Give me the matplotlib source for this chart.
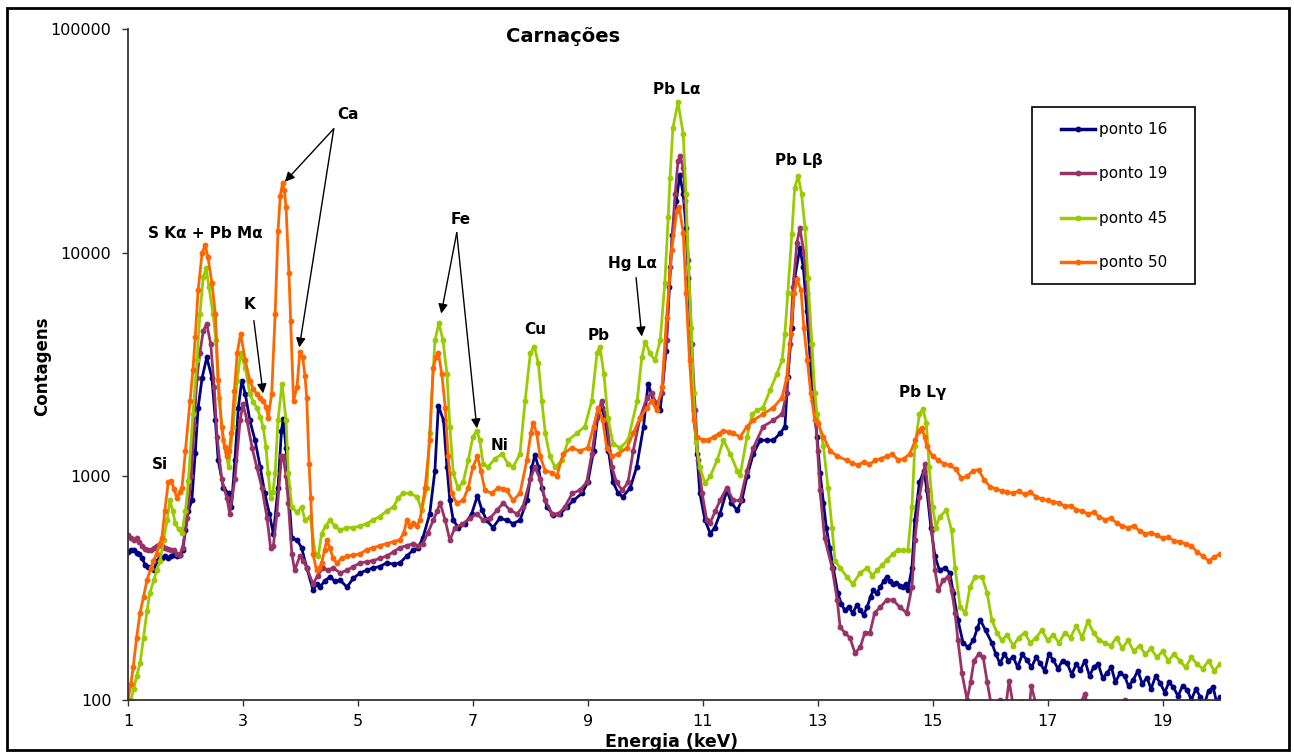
import matplotlib
matplotlib.use('Agg')
import matplotlib.pyplot as plt
from matplotlib.patches import Rectangle
from matplotlib.lines import Line2D
from matplotlib.ticker import FixedLocator, FixedFormatter, NullLocator

plt.rcParams['font.family'] = ['DejaVu Sans']

# ---------------- data (energy keV, counts) ----------------
e16 = [1.00,1.05,1.10,1.15,1.20,1.25,1.30,1.35,1.40,1.45,
       1.50,1.55,1.60,1.65,1.70,1.75,1.80,1.85,1.90,1.95,
       2.00,2.05,2.11,2.17,2.22,2.29,2.37,2.46,2.52,2.57,
       2.66,2.75,2.80,2.86,2.92,2.98,3.04,3.12,3.21,3.30,
       3.38,3.46,3.53,3.61,3.67,3.70,3.75,3.79,3.85,3.94,
       4.02,4.11,4.22,4.28,4.34,4.42,4.51,4.60,4.69,4.81,
       4.92,5.04,5.15,5.27,5.38,5.50,5.62,5.73,5.85,5.96,
       6.05,6.13,6.25,6.34,6.40,6.49,6.55,6.60,6.66,6.75,
       6.86,6.98,7.08,7.16,7.24,7.35,7.47,7.59,7.70,7.82,
       7.94,8.03,8.08,8.14,8.20,8.29,8.40,8.52,8.64,8.75,
       8.90,9.00,9.10,9.18,9.25,9.30,9.36,9.44,9.53,9.61,
       9.74,9.85,9.97,10.05,10.14,10.26,10.36,10.42,10.47,10.54,
       10.60,10.66,10.71,10.75,10.80,10.84,10.90,10.95,11.04,11.13,
       11.21,11.30,11.42,11.50,11.60,11.68,11.77,11.88,12.00,12.12,
       12.23,12.35,12.43,12.48,12.55,12.60,12.69,12.75,12.81,12.87,
       12.92,12.99,13.04,13.10,13.15,13.21,13.27,13.35,13.41,13.47,
       13.54,13.61,13.68,13.74,13.80,13.86,13.92,13.97,14.03,14.09,
       14.15,14.20,14.25,14.31,14.37,14.43,14.48,14.53,14.57,14.64,
       14.69,14.77,14.85,14.90,14.97,15.04,15.12,15.21,15.30,15.36,
       15.44,15.53,15.62,15.71,15.78,15.83,15.92,16.03,16.10,16.17,
       16.25,16.32,16.40,16.48,16.56,16.64,16.72,16.80,16.87,16.95,
       17.02,17.10,17.18,17.26,17.34,17.42,17.50,17.57,17.65,17.73,
       17.80,17.88,17.96,18.03,18.11,18.18,18.26,18.34,18.41,18.49,
       18.57,18.65,18.73,18.80,18.88,18.96,19.04,19.11,19.19,19.27,
       19.35,19.43,19.50,19.58,19.66,19.73,19.80,19.88,19.94,20.00]
c16 = [460,470,467,455,450,430,400,395,390,380,
       420,430,430,440,430,440,445,440,445,467,
       574,700,780,1270,2030,2760,3400,2760,1780,1180,
       890,840,730,1180,2030,2680,2340,1780,1450,1100,
       840,680,550,890,1600,1800,1340,890,530,520,
       480,390,310,330,320,340,355,340,343,320,
       350,370,380,390,395,410,405,410,440,467,
       480,530,680,1060,2070,1780,1100,780,636,590,
       610,680,820,705,636,590,650,636,615,636,
       780,1100,1250,1100,890,730,670,680,730,780,
       840,940,1300,1900,2030,1780,1300,940,840,810,
       890,1100,1670,2600,2180,1970,3650,7000,12000,17000,
       22300,18300,12900,7700,3900,1970,1260,840,636,555,
       590,680,866,760,705,780,1000,1260,1450,1450,
       1450,1560,1670,2780,4600,7700,10500,8600,5500,3300,
       2180,1500,1040,760,590,480,390,300,270,252,
       260,245,265,252,240,260,290,310,300,320,
       340,355,340,330,335,325,320,330,310,390,
       636,940,1060,866,590,440,380,390,370,300,
       228,180,172,185,210,228,205,180,160,146,
       160,150,156,140,160,151,140,155,146,135,
       160,151,138,150,146,130,145,136,150,128,
       140,145,125,132,140,120,132,128,115,123,
       135,118,126,112,128,119,108,120,114,104,
       116,111,100,112,103,96,110,114,98,103]

e19 = [1.00,1.05,1.10,1.15,1.20,1.25,1.30,1.35,1.40,1.45,
       1.50,1.55,1.60,1.65,1.70,1.75,1.80,1.85,1.90,1.95,
       2.03,2.10,2.15,2.20,2.25,2.31,2.37,2.44,2.50,2.55,
       2.63,2.72,2.77,2.86,2.95,3.00,3.07,3.16,3.24,3.33,
       3.42,3.48,3.53,3.59,3.67,3.70,3.75,3.79,3.85,3.90,
       3.99,4.05,4.11,4.22,4.30,4.39,4.48,4.57,4.69,4.81,
       4.92,5.04,5.15,5.27,5.38,5.50,5.62,5.73,5.85,5.96,
       6.05,6.13,6.22,6.31,6.38,6.43,6.52,6.60,6.69,6.81,
       6.95,7.07,7.18,7.30,7.42,7.53,7.65,7.77,7.87,8.00,
       8.08,8.17,8.26,8.38,8.49,8.60,8.73,8.86,8.98,9.07,
       9.16,9.24,9.33,9.42,9.50,9.60,9.70,9.79,9.91,10.03,
       10.11,10.20,10.29,10.37,10.43,10.52,10.57,10.61,10.66,10.70,
       10.75,10.81,10.87,10.92,10.99,11.07,11.13,11.22,11.30,11.42,
       11.53,11.65,11.77,11.88,12.05,12.23,12.38,12.46,12.52,12.57,
       12.64,12.69,12.76,12.82,12.88,12.94,13.00,13.04,13.12,13.25,
       13.34,13.39,13.47,13.56,13.65,13.74,13.82,13.91,13.99,14.09,
       14.20,14.31,14.43,14.55,14.64,14.69,14.77,14.87,14.92,14.99,
       15.04,15.10,15.18,15.27,15.33,15.39,15.44,15.51,15.60,15.66,
       15.72,15.80,15.88,15.95,16.02,16.10,16.18,16.26,16.33,16.40,
       16.48,16.56,16.65,16.72,16.80,16.88,16.96,17.05,17.15,17.25,
       17.35,17.45,17.55,17.65,17.75,17.85,17.95,18.05,18.15,18.25,
       18.35,18.45,18.60,18.80,19.00,19.20,19.40,19.60,19.80,20.00]
c19 = [545,530,520,530,510,490,475,470,467,480,
       490,500,490,480,475,470,467,450,445,480,
       650,1000,1700,2760,3550,4480,4800,3900,2500,1500,
       970,800,680,970,1780,2100,1780,1340,1100,890,
       650,480,490,680,1230,1230,1000,760,450,380,
       440,420,390,330,360,390,380,390,370,380,
       395,410,415,420,430,440,460,480,490,500,
       490,500,560,636,700,760,636,518,590,610,
       650,680,636,650,705,760,705,680,730,970,
       1100,970,780,680,680,730,840,866,940,1260,
       1830,2180,1780,1100,940,866,940,1300,1830,2250,
       2350,2100,2350,4050,8600,18300,25800,27000,24000,17000,
       9300,3900,1970,1180,840,636,620,700,780,890,
       780,780,1060,1340,1670,1780,1900,2350,3900,7000,
       11100,12900,10000,6600,3900,2350,1300,866,530,390,
       280,212,200,190,162,172,200,200,245,260,
       280,280,260,245,320,518,810,1140,866,574,
       380,310,343,355,310,245,185,132,100,120,
       150,160,155,120,95,90,100,88,122,95,
       85,98,80,115,95,85,92,80,90,78,
       85,80,95,106,82,75,85,78,80,92,
       100,75,70,72,68,70,66,65,62,60]

e45 = [1.05,1.10,1.15,1.21,1.27,1.33,1.38,1.45,1.50,1.56,
       1.62,1.68,1.73,1.78,1.82,1.88,1.94,2.00,2.05,2.13,
       2.20,2.25,2.31,2.36,2.41,2.48,2.53,2.58,2.66,2.75,
       2.83,2.90,2.96,3.04,3.12,3.18,3.24,3.30,3.35,3.40,
       3.44,3.48,3.52,3.56,3.61,3.68,3.75,3.79,3.85,3.94,
       4.02,4.08,4.17,4.26,4.31,4.37,4.44,4.51,4.60,4.69,
       4.80,4.92,5.04,5.16,5.27,5.38,5.50,5.62,5.70,5.79,
       5.90,6.03,6.11,6.20,6.25,6.34,6.41,6.48,6.55,6.60,
       6.66,6.74,6.83,6.92,7.00,7.07,7.12,7.18,7.26,7.39,
       7.51,7.61,7.70,7.82,7.91,8.00,8.07,8.14,8.20,8.26,
       8.34,8.43,8.55,8.66,8.81,8.95,9.07,9.16,9.21,9.28,
       9.35,9.44,9.56,9.70,9.86,9.94,10.00,10.08,10.17,10.26,
       10.34,10.40,10.43,10.48,10.57,10.66,10.71,10.75,10.80,10.84,
       10.88,10.95,11.04,11.13,11.25,11.36,11.48,11.60,11.65,11.77,
       11.86,11.95,12.05,12.17,12.29,12.38,12.43,12.48,12.55,12.60,
       12.66,12.72,12.78,12.83,12.90,12.95,12.99,13.10,13.18,13.25,
       13.30,13.39,13.51,13.61,13.74,13.86,13.95,14.03,14.12,14.20,
       14.31,14.40,14.48,14.57,14.64,14.69,14.77,14.83,14.89,14.94,
       15.00,15.06,15.12,15.24,15.33,15.39,15.48,15.57,15.65,15.74,
       15.86,15.95,16.03,16.12,16.2,16.3,16.4,16.5,16.6,16.7,
       16.8,16.9,17.0,17.1,17.2,17.3,17.4,17.5,17.6,17.7,
       17.8,17.9,18.0,18.1,18.2,18.3,18.4,18.5,18.6,18.7,
       18.8,18.9,19.0,19.1,19.2,19.3,19.4,19.5,19.6,19.7,
       19.8,19.9,20.0]
c45 = [100,112,128,146,190,250,300,345,380,420,
       520,636,780,700,620,580,560,700,950,1900,
       3300,5300,7800,8500,7000,5300,4050,2250,1450,1100,
       1670,2680,3550,3060,2340,2150,2030,1850,1670,1350,
       1030,800,850,1030,1780,2600,1780,1030,730,690,
       730,636,660,450,440,555,600,636,600,574,
       590,590,600,615,640,660,700,730,800,840,
       840,810,705,890,1560,4050,4850,4050,2870,1670,
       1030,890,940,1180,1500,1600,1450,1140,1100,1200,
       1260,1140,1100,1260,2180,3550,3800,3200,2180,1560,
       1230,1100,1180,1450,1560,1670,2180,3550,3800,2870,
       1830,1400,1340,1450,2180,3400,4000,3550,3300,4050,
       7300,14500,21500,36000,47000,34000,18300,8600,4600,2350,
       1420,1100,930,1000,1180,1450,1260,1060,1010,1500,
       1900,1970,2030,2420,2870,3300,4350,6600,12100,19500,
       22000,18300,12900,7700,3900,2350,1900,1360,890,590,
       420,390,355,330,370,390,360,380,400,422,
       450,470,467,467,730,1360,1900,2000,1740,1100,
       730,590,660,705,574,390,260,245,320,355,
       355,300,228,200,185,195,175,190,200,180,
       190,205,185,195,180,200,190,215,190,225,
       200,185,180,175,190,170,185,165,175,160,
       170,155,165,150,160,150,140,155,145,138,
       150,135,145]

e50 = [1.00,1.05,1.09,1.15,1.21,1.27,1.33,1.40,1.44,1.50,
       1.55,1.59,1.64,1.70,1.75,1.80,1.85,1.90,1.94,2.00,
       2.08,2.13,2.17,2.22,2.29,2.34,2.39,2.46,2.52,2.57,
       2.63,2.68,2.72,2.76,2.80,2.85,2.90,2.96,3.04,3.12,
       3.18,3.24,3.30,3.35,3.40,3.44,3.50,3.56,3.61,3.65,
       3.69,3.72,3.75,3.80,3.83,3.88,3.94,3.99,4.04,4.08,
       4.11,4.15,4.18,4.22,4.28,4.33,4.37,4.42,4.46,4.51,
       4.57,4.63,4.72,4.81,4.92,5.04,5.15,5.27,5.38,5.50,
       5.62,5.73,5.80,5.85,5.90,5.96,6.02,6.08,6.17,6.25,
       6.31,6.36,6.40,6.46,6.52,6.57,6.63,6.72,6.83,6.92,
       7.00,7.08,7.14,7.21,7.33,7.44,7.52,7.59,7.70,7.82,
       7.94,8.01,8.05,8.11,8.17,8.26,8.38,8.46,8.57,8.72,
       8.86,9.00,9.10,9.18,9.26,9.33,9.42,9.53,9.68,9.79,
       9.91,10.03,10.11,10.20,10.29,10.37,10.46,10.55,10.59,10.66,
       10.71,10.77,10.84,10.90,11.01,11.10,11.19,11.28,11.36,11.45,
       11.53,11.65,11.77,11.88,12.05,12.23,12.38,12.46,12.53,12.59,
       12.64,12.71,12.76,12.82,12.88,12.95,13.00,13.10,13.22,13.34,
       13.51,13.6,13.7,13.8,13.9,14.0,14.1,14.2,14.3,14.4,
       14.5,14.6,14.7,14.76,14.81,14.86,14.9,15.0,15.1,15.2,
       15.3,15.4,15.5,15.6,15.7,15.8,15.9,16.0,16.1,16.2,
       16.3,16.4,16.5,16.6,16.7,16.8,16.9,17.0,17.1,17.2,
       17.3,17.4,17.5,17.6,17.7,17.8,17.9,18.0,18.1,18.2,
       18.3,18.4,18.5,18.6,18.7,18.8,18.9,19.0,19.1,19.2,
       19.3,19.4,19.5,19.6,19.7,19.8,19.9,20.0]
c50 = [100,118,140,190,245,290,343,390,420,450,
       500,530,700,940,950,880,800,850,890,1300,
       2180,3000,4200,6800,10000,10800,9600,7300,5300,2700,
       1670,1350,1230,1300,1560,2400,3550,4350,3300,2680,
       2450,2340,2250,2180,2050,1830,2340,5300,12500,18000,
       20500,19000,16000,8100,4970,2180,2500,3580,3400,2800,
       2250,1140,800,450,380,390,410,470,518,480,
       430,410,430,440,445,450,470,480,490,500,
       510,520,560,636,600,620,600,636,890,1450,
       3060,3400,3550,2870,2030,1230,840,760,780,890,
       1100,1230,1060,866,840,890,880,866,780,840,
       1180,1560,1740,1560,1230,1060,1040,1000,1260,1340,
       1300,1340,1670,2030,1780,1340,1230,1260,1340,1560,
       1830,2030,2180,1970,2500,5100,10300,15400,16000,12300,
       6600,3300,1780,1500,1450,1460,1500,1550,1600,1580,
       1560,1500,1670,1780,1900,2030,2250,2760,4350,6600,
       7600,6800,4600,3300,2350,1780,1740,1500,1300,1230,
       1180,1150,1120,1160,1130,1180,1200,1230,1260,1180,
       1200,1260,1450,1600,1650,1500,1360,1230,1180,1140,
       1120,1080,980,1000,1060,1070,960,900,880,860,
       850,840,860,830,850,810,790,780,770,760,
       735,740,710,700,680,690,660,640,650,620,
       600,590,600,570,555,560,545,530,535,515,
       510,500,490,460,440,420,435,450]

series_labels = ['ponto 16', 'ponto 19', 'ponto 45', 'ponto 50']
series_colors = ['#000080', '#993366', '#99CC00', '#FF6600']
x_ticks = [1, 3, 5, 7, 9, 11, 13, 15, 17, 19]
y_ticks = [100, 1000, 10000, 100000]
y_tick_labels = ['100', '1000', '10000', '100000']

for e, c in [(e16, c16), (e19, c19), (e45, c45), (e50, c50)]:
    assert len(e) == len(c), (len(e), len(c))

W, H = 1294, 756
fig = plt.figure(figsize=(W / 100, H / 100), dpi=100)
fig.patch.set_facecolor('white')

ax = fig.add_axes([128 / W, 1 - 700 / H, 1092 / W, 671 / H])
for (e, c), col, lab in zip([(e16, c16), (e19, c19), (e45, c45), (e50, c50)],
                            series_colors, series_labels):
    ax.plot(e, c, color=col, lw=2.0, marker='o', ms=3.2, mfc=col, mec=col,
            label=lab, solid_joinstyle='round')

ax.set_yscale('log')
ax.set_xlim(1, 20)
ax.set_ylim(100, 100000)
ax.xaxis.set_major_locator(FixedLocator(x_ticks))
ax.xaxis.set_minor_locator(NullLocator())
ax.yaxis.set_major_locator(FixedLocator(y_ticks))
ax.yaxis.set_major_formatter(FixedFormatter(y_tick_labels))
ax.yaxis.set_minor_locator(NullLocator())
for s in ['top', 'right']:
    ax.spines[s].set_visible(False)
for s in ['left', 'bottom']:
    ax.spines[s].set_color('#333333')
    ax.spines[s].set_linewidth(1.3)
ax.tick_params(axis='y', direction='out', length=4, width=1, color='#333333',
               labelsize=11.5, pad=8)
ax.tick_params(axis='x', direction='out', length=4, width=1, color='#333333',
               labelsize=11.5, pad=6)

# axis titles and chart title
fig.text(42 / W, 1 - 366 / H, 'Contagens', rotation=90, ha='center', va='center',
         fontsize=12, fontweight='bold')
fig.text(672 / W, 1 - 742 / H, 'Energia (keV)', ha='center', va='center',
         fontsize=12.5, fontweight='bold')
fig.text(563 / W, 1 - 37 / H, 'Carnações', ha='center', va='center',
         fontsize=14, fontweight='bold')

# peak labels
lab_kw = dict(ha='center', va='center', fontsize=11, fontweight='bold')
ax.text(2.34, 12160, 'S Kα + Pb Mα', **lab_kw)
ax.text(1.56, 1131, 'Si', **lab_kw)
ax.text(3.12, 5860, 'K', **lab_kw)
ax.text(4.83, 41300, 'Ca', **lab_kw)
ax.text(6.79, 14030, 'Fe', **lab_kw)
ax.text(7.47, 1375, 'Ni', **lab_kw)
ax.text(8.08, 4532, 'Cu', **lab_kw)
ax.text(9.18, 4260, 'Pb', **lab_kw)
ax.text(9.77, 8930, 'Hg Lα', **lab_kw)
ax.text(10.55, 53400, 'Pb Lα', **lab_kw)
ax.text(12.68, 25750, 'Pb Lβ', **lab_kw)
ax.text(14.82, 2371, 'Pb Lγ', **lab_kw)

arrow_kw = dict(arrowstyle='-|>', color='black', lw=1.0, mutation_scale=14,
                shrinkA=0, shrinkB=0)
arrows = [((3.19, 4970), (3.35, 2348)),      # K
          ((4.58, 35800), (3.73, 20750)),    # Ca
          ((4.58, 35800), (3.98, 3767)),     # Ca
          ((6.72, 12290), (6.45, 5343)),     # Fe
          ((6.72, 12290), (7.07, 1638)),     # Fe
          ((9.84, 7730), (9.94, 4217))]      # Hg
for start, tip in arrows:
    ax.annotate('', xy=tip, xytext=start, arrowprops=arrow_kw)

# legend with separate frame
handles = [Line2D([], [], color=col, lw=2.5, marker='o', ms=3.2, mfc=col, mec=col)
           for col in series_colors]
fig.legend(handles, series_labels, loc='upper left',
           bbox_to_anchor=(1061 / W, 1 - 122 / H), frameon=False, fontsize=11,
           borderpad=0, borderaxespad=0, handlelength=2.25, handletextpad=0.25,
           labelspacing=1.93, numpoints=1)
fig.patches.append(Rectangle((1032 / W, 1 - 284 / H), 163 / W, 177 / H,
                             transform=fig.transFigure, fill=False,
                             edgecolor='black', lw=1.2))

# outer chart border
fig.patches.append(Rectangle((7 / W, 1 - 750 / H), 1282 / W, 742 / H,
                             transform=fig.transFigure, fill=False,
                             edgecolor='black', lw=2))

fig.savefig('out.png', dpi=100, facecolor='white')
